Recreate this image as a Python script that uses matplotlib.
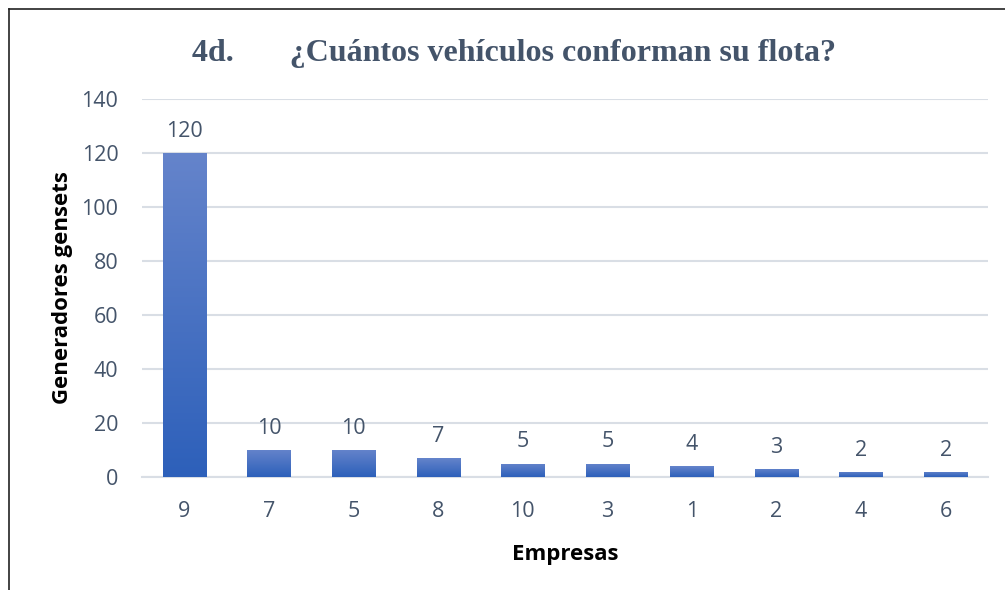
import matplotlib
matplotlib.use("Agg")
import matplotlib.pyplot as plt
import numpy as np
from matplotlib.colors import LinearSegmentedColormap
from matplotlib.lines import Line2D

categories = ["9", "7", "5", "8", "10", "3", "1", "2", "4", "6"]
values = [120, 10, 10, 7, 5, 5, 4, 3, 2, 2]
yticks = [0, 20, 40, 60, 80, 100, 120, 140]

title = "4d.       ¿Cuántos vehículos conforman su flota?"
xlabel = "Empresas"
ylabel = "Generadores gensets"

txt = "#44546a"
fig = plt.figure(figsize=(10.05, 5.90), dpi=100)
ax = fig.add_axes([0.1413, 0.1915, 0.8417, 0.6407])

x = np.arange(len(categories))
bars = ax.bar(x, values, width=0.51, color="#3a69c2", zorder=2)

cmap = LinearSegmentedColormap.from_list("g", ["#2d60ba", "#6584cb"])
grad = np.linspace(0, 1, 256).reshape(-1, 1)
for b in bars:
    x0, y0 = b.get_x(), b.get_y()
    w, h = b.get_width(), b.get_height()
    im = ax.imshow(grad, cmap=cmap, origin="lower", aspect="auto",
                   extent=[x0, x0 + w, y0, y0 + h], zorder=3)
    im.set_clip_path(b)

for xi, v in zip(x, values):
    ax.annotate(str(v), (xi, v), xytext=(0, 8), textcoords="offset points",
                ha="center", va="bottom", fontsize=15.5, color=txt,
                family="Open Sans")

ax.set_xlim(-0.5, len(categories) - 0.5)
ax.set_ylim(0, 140)
ax.set_yticks(yticks)
ax.set_xticks(x)
ax.set_xticklabels(categories)
ax.grid(axis="y", color="#d9dee5", linewidth=1.5, zorder=0)
ax.set_axisbelow(True)
for s in ["top", "right", "left"]:
    ax.spines[s].set_visible(False)
ax.spines["bottom"].set_color("#d9dee5")
ax.spines["bottom"].set_linewidth(1.5)
ax.tick_params(axis="both", length=0, labelsize=15.5, labelcolor=txt)
ax.tick_params(axis="x", pad=17)
ax.tick_params(axis="y", pad=17)
for lab in ax.get_xticklabels() + ax.get_yticklabels():
    lab.set_family("Open Sans")

ax.set_xlabel(xlabel, fontsize=16, fontweight="bold", family="Open Sans",
              color="black", labelpad=16)
ax.set_ylabel(ylabel, fontsize=16, fontweight="bold", family="Open Sans",
              color="black", labelpad=6)

fig.text(0.511, 0.909, title, ha="center", va="center", fontsize=23,
         fontweight="bold", family="Liberation Serif", color=txt)

fig.add_artist(Line2D([9/1005, 1], [1 - 9/590, 1 - 9/590], color="#222222",
                      linewidth=1.2, transform=fig.transFigure))
fig.add_artist(Line2D([9/1005, 9/1005], [0, 1 - 9/590], color="#222222",
                      linewidth=1.2, transform=fig.transFigure))

fig.savefig("out.png", dpi=100, facecolor="white")
